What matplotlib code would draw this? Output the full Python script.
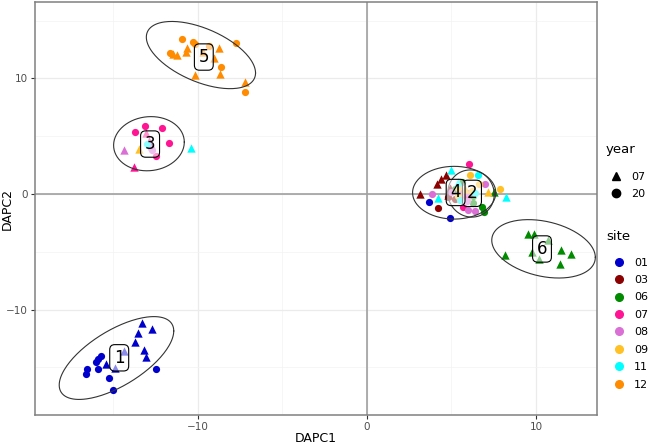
import numpy as np
import matplotlib
matplotlib.use('Agg')
import matplotlib.pyplot as plt
from matplotlib.lines import Line2D

# DAPC scores, one entry per individual
dapc1 = [
    # cluster 1
    -13.29, -13.56, -12.69, -13.71, -13.2, -13.1, -14.35, -15.41, -14.91,
    -15.75, -15.89, -16.05, -16.55, -16.65, -15.93, -15.29, -15.05, -12.46,
    # cluster 5
    -10.92, -10.32, -10.16, -10.66, -10.72, -11.66, -11.46, -11.26, -9.37,
    -8.78, -7.72, -9.07, -8.66, -8.7, -10.16, -7.21, -7.21, -9.7,
    # cluster 3
    -13.75, -13.16, -12.1, -11.7, -12.46, -13.77, -14.35, -13.46, -10.4, -13.1, -12.7,
    -13.0, -12.8, -12.9,
    # cluster 6
    9.5, 9.9, 10.74, 8.18, 9.76, 11.46, 12.05, 11.41, 10.2,
    # cluster 4
    3.15, 4.17, 4.65, 4.4, 4.9, 3.67, 4.93, 4.21, 4.21, 3.87, 4.97, 5.6,
    5.7, 5.4, 6.0, 8.2, 7.5, 5.2, 6.2, 7.14, 6.05,
    5.0, 5.4, 5.2, 5.6, 4.8, 5.5,
    # cluster 2
    6.07, 7.86, 6.6, 6.54, 6.8, 6.9, 6.3, 7.0, 5.9, 6.4, 5.6, 5.8, 5.5,
    4.8, 5.4, 6.2,
    6.0, 6.3, 6.2, 5.9, 6.4,
]
dapc2 = [
    -11.14, -12.0, -11.7, -12.8, -13.5, -14.07, -13.55, -14.7, -15.04,
    -14.0, -14.3, -14.55, -15.16, -15.56, -15.16, -15.93, -16.94, -15.13,
    13.38, 13.17, 12.95, 12.6, 12.26, 12.22, 12.08, 12.0, 12.8,
    12.6, 13.03, 11.8, 11.0, 10.36, 10.3, 9.7, 8.86, 12.3,
    5.41, 5.85, 5.7, 4.41, 3.26, 2.31, 3.81, 3.9, 3.95, 5.24, 3.8,
    4.3, 4.0, 4.6,
    -3.49, -3.49, -3.95, -5.24, -5.01, -4.87, -5.16, -6.02, -5.6,
    0.02, 0.88, 1.68, 1.3, 0.5, -0.7, -2.05, -1.19, -0.33, 0.0, 2.11, 1.02,
    -1.14, 0.5, -1.42, -0.22, 0.16, -0.4, 0.2, 0.16, 2.6,
    0.2, -0.2, 0.4, 0.1, -0.1, -0.5,
    1.68, 0.45, 0.9, 1.68, -1.14, -1.57, -0.8, 0.88, -0.6, -1.5, -0.3, 0.4, 0.2,
    -0.3, 1.0, 0.2,
    0.1, -0.2, 0.3, -0.3, 0.1,
]
site = (
    ["01"] * 18
    + ["12"] * 18
    + ["07", "07", "07", "07", "07", "07", "08", "09", "11", "07", "08", "11", "08", "07"]
    + ["06"] * 9
    + ["03", "03", "03", "03", "03", "01", "01", "03", "11", "08", "11", "06",
       "07", "09", "08", "11", "06", "03", "07", "09", "07",
       "08", "09", "06", "07", "03", "11"]
    + ["09", "09", "09", "11", "06", "06", "06", "08", "08", "08", "07", "09", "08",
       "03", "11", "06",
       "08", "06", "09", "07", "11"]
)
year = (
    ["07"] * 9 + ["20"] * 9
    + ["20", "20", "20", "07", "07", "20", "07", "07", "20",
       "07", "20", "07", "20", "07", "07", "07", "20", "07"]
    + ["20", "20", "20", "20", "20", "07", "07", "07", "07", "07", "20", "20", "20", "07"]
    + ["07"] * 9
    + ["07", "07", "07", "07", "07", "20", "20", "20", "07", "20", "07", "20",
       "20", "20", "20", "07", "07", "20", "20", "07", "20",
       "20", "20", "20", "20", "07", "20"]
    + ["20", "20", "20", "20", "20", "20", "20", "20", "20", "20", "20", "07", "07",
       "20", "07", "07",
       "20", "20", "20", "20", "20"]
)
grp = ["1"] * 18 + ["5"] * 18 + ["3"] * 14 + ["6"] * 9 + ["4"] * 27 + ["2"] * 21

sites = ["01", "03", "06", "07", "08", "09", "11", "12"]
site_colors = ["#0000CD", "#8B0000", "#008B00", "#FF1493",
               "#DA70D6", "#FFC125", "#00FFFF", "#FF8C00"]
years = ["07", "20"]
year_markers = ["^", "o"]

x = np.array(dapc1)
y = np.array(dapc2)
site = np.array(site)
year = np.array(year)
grp = np.array(grp)


def cov_trob(pts, nu=5, maxit=25, tol=0.01):
    # same robust estimate as MASS::cov.trob used by stat_ellipse
    n, p = pts.shape
    loc = pts.mean(axis=0)
    w = np.ones(n)
    for _ in range(maxit):
        w0 = w
        X = pts - loc
        _, d, vt = np.linalg.svd(np.sqrt(w / w.sum())[:, None] * X, full_matrices=False)
        wX = X @ vt.T / d
        Q = (wX ** 2).sum(axis=1)
        w = (nu + p) / (nu + Q)
        loc = (w[:, None] * pts).sum(axis=0) / w.sum()
        if np.all(np.abs(w - w0) < tol):
            break
    cov = (np.sqrt(w)[:, None] * X).T @ (np.sqrt(w)[:, None] * X) / n
    return loc, cov


fig = plt.figure(figsize=(6.69, 4.47), dpi=100)
ax = fig.add_axes([35 / 669, 1 - 415 / 447, 562 / 669, 413 / 447])

ax.axhline(0, color="#A0A0A0", lw=1.2, zorder=1)
ax.axvline(0, color="#A0A0A0", lw=1.2, zorder=1)

for s, c in zip(sites, site_colors):
    for yr, m in zip(years, year_markers):
        k = (site == s) & (year == yr)
        if k.any():
            ax.scatter(x[k], y[k], s=36 if m == "^" else 27, marker=m, color=c,
                       linewidths=0, zorder=2)

t = np.linspace(0, 2 * np.pi, 200)
circle = np.column_stack([np.cos(t), np.sin(t)])
for g in ["1", "2", "3", "4", "5", "6"]:
    k = grp == g
    pts = np.column_stack([x[k], y[k]])
    center, cov = cov_trob(pts)
    m = len(pts) - 1
    radius = np.sqrt(2 * (m / 2) * (0.05 ** (-2 / m) - 1))
    ell = center + radius * circle @ np.linalg.cholesky(cov).T
    ax.plot(ell[:, 0], ell[:, 1], color="#333333", lw=0.8, zorder=3)

for g in ["1", "2", "3", "4", "5", "6"]:
    k = grp == g
    ax.text(x[k].mean(), y[k].mean(), g, fontsize=12, ha="center", va="center", zorder=4,
            bbox=dict(boxstyle="round,pad=0.25,rounding_size=0.3", fc=(1, 1, 1, 0.55),
                      ec="black", lw=0.8))

ax.set_xlim(-19.64, 13.61)
ax.set_ylim(-19.13, 16.62)
ax.set_xticks([-10, 0, 10])
ax.set_yticks([-10, 0, 10])
ax.set_xticks([-15, -5, 5], minor=True)
ax.set_yticks([-15, -5, 5, 15], minor=True)
ax.grid(which="major", color="#EBEBEB", lw=0.9, zorder=0)
ax.grid(which="minor", color="#F3F3F3", lw=0.5, zorder=0)
ax.set_axisbelow(True)
ax.tick_params(which="major", length=3, color="#333333", labelsize=7.5,
               labelcolor="#4D4D4D", pad=2)
ax.tick_params(which="minor", length=0)
for sp in ax.spines.values():
    sp.set_color("#808080")
    sp.set_linewidth(1.1)
ax.set_xlabel("DAPC1", fontsize=9)
ax.set_ylabel("DAPC2", fontsize=9)
ax.xaxis.set_label_coords(0.5, -0.04)
ax.yaxis.set_label_coords(-0.038, 0.5)

fig.text(606 / 669, 1 - 150 / 447, "year", fontsize=9.5, va="center", ha="left")
fig.text(606 / 669, 1 - 236 / 447, "site", fontsize=9.5, va="center", ha="left")

year_handles = [Line2D([], [], ls="", marker=m, color="black", markersize=6)
                for m in year_markers]
fig.legend(year_handles, years, loc="upper left",
           bbox_to_anchor=(603 / 669, 1 - 166 / 447), frameon=False,
           fontsize=8, handlelength=1.4, handletextpad=0.6, labelspacing=0.67, borderpad=0)
site_handles = [Line2D([], [], ls="", marker="o", color=c, markersize=5.5)
                for c in site_colors]
fig.legend(site_handles, sites, loc="upper left",
           bbox_to_anchor=(606 / 669, 1 - 252 / 447), frameon=False,
           fontsize=8, handlelength=1.4, handletextpad=0.6, labelspacing=0.67, borderpad=0)

fig.savefig("out.png", dpi=100)
